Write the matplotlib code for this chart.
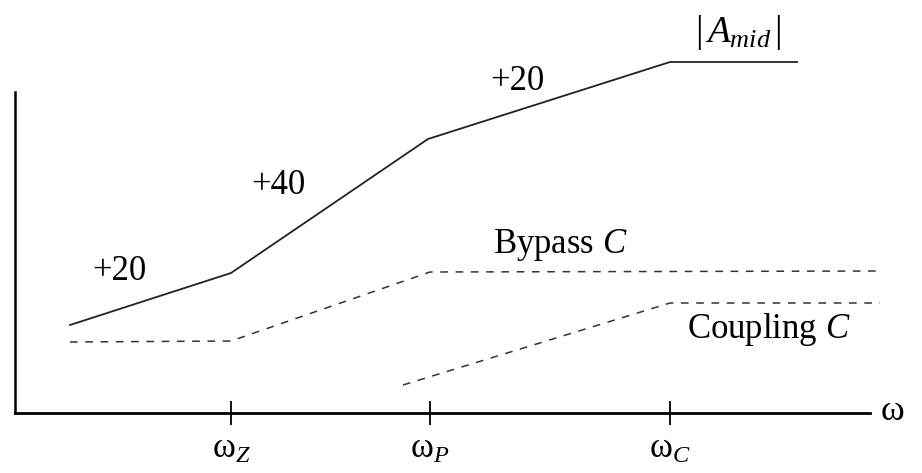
import matplotlib.pyplot as plt

# 折线近似（像素读取，原点在坐标轴交点）
w_ticks = [216, 415, 655]
tick_labels = ['ω$_{\\mathit{Z}}$', 'ω$_{\\mathit{P}}$', 'ω$_{\\mathit{C}}$']

w_amid = [55, 216, 413, 655, 782]
gain_amid = [88, 140, 274, 351, 351]

w_bypass = [55, 216, 415, 868]
gain_bypass = [71, 72, 141, 142]

w_coupling = [388, 655, 865]
gain_coupling = [28, 110, 110]

plt.rcParams['font.family'] = ['Liberation Serif', 'DejaVu Serif']
plt.rcParams['mathtext.fontset'] = 'custom'
plt.rcParams['mathtext.rm'] = 'Liberation Serif'
plt.rcParams['mathtext.it'] = 'Liberation Serif:italic'

fig = plt.figure(figsize=(9.22, 4.73), dpi=100)
ax = fig.add_axes([15 / 922, 60 / 473, 855 / 922, 321 / 473])
ax.set_xlim(0, 855)
ax.set_ylim(0, 321)

ax.plot(w_amid, gain_amid, color='#222222', lw=1.3, clip_on=False)
ax.plot(w_bypass, gain_bypass, color='#333333', lw=1.1, dashes=(5, 5), clip_on=False)
ax.plot(w_coupling, gain_coupling, color='#333333', lw=1.1, dashes=(5, 5), clip_on=False)

# 坐标轴
for s in ['top', 'right']:
    ax.spines[s].set_visible(False)
ax.spines['left'].set_linewidth(1.8)
ax.spines['bottom'].set_linewidth(2.0)
ax.set_yticks([])
ax.set_xticks(w_ticks)
ax.set_xticklabels(tick_labels, fontsize=25)
ax.tick_params(axis='x', direction='inout', length=17, width=1.3, pad=6)

# 标注
fs = 25
ax.text(104, 141, '+20', fontsize=fs, ha='center', va='center')
ax.text(263, 227, '+40', fontsize=fs, ha='center', va='center')
ax.text(502, 331, '+20', fontsize=fs, ha='center', va='center')
ax.text(723, 381, r'$|\,A_{mid}\,|$', fontsize=27, ha='center', va='center')
ax.text(545, 168, 'Bypass $\\mathit{C}$', fontsize=fs, ha='center', va='center')
ax.text(754, 83, 'Coupling $\\mathit{C}$', fontsize=fs, ha='center', va='center')
ax.text(877, 2, 'ω', fontsize=26, ha='center', va='center')

fig.savefig('out.png', dpi=100)
